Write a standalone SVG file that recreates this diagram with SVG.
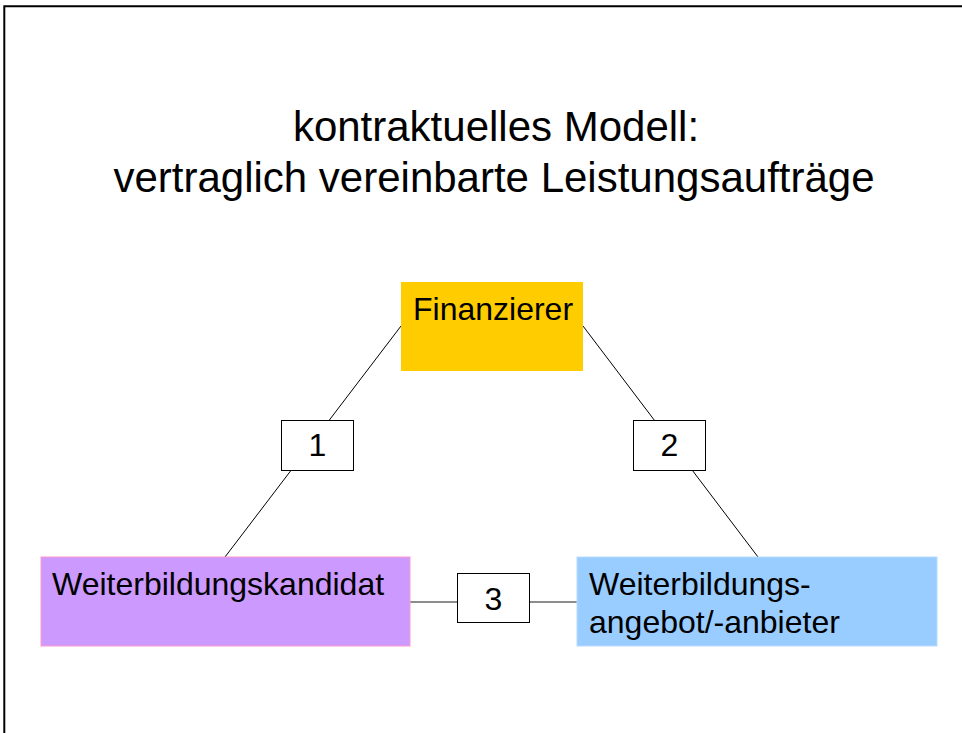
<svg xmlns="http://www.w3.org/2000/svg" width="962" height="733" viewBox="0 0 962 733">
  <style>
    text { font-family: "Liberation Sans", Arial, sans-serif; fill: #000; }
    .title { font-size: 42px; text-anchor: middle; }
    .lbl { font-size: 32px; }
    .num { font-size: 32px; text-anchor: middle; }
    .conn { stroke: #000; stroke-width: 1; fill: none; }
    .connh { stroke: #666; stroke-width: 1.6; fill: none; }
    .numbox { fill: #fff; stroke: #000; stroke-width: 1; }
  </style>
  <rect x="0" y="0" width="962" height="733" fill="#fff"/>
  <path d="M4.3,733 V6.3 H962" fill="none" stroke="#000" stroke-width="2"/>
  <g id="title">
    <text class="title" x="496" y="141">kontraktuelles Modell:</text>
    <text class="title" x="494" y="192">vertraglich vereinbarte Leistungsaufträge</text>
  </g>
  <g id="connectors">
    <line class="conn" x1="401" y1="326" x2="225" y2="557"/>
    <line class="conn" x1="583" y1="326" x2="758" y2="557"/>
    <line class="connh" x1="410" y1="602" x2="577" y2="602"/>
  </g>
  <g id="finanzierer">
    <rect x="401" y="282" width="182" height="89" fill="#FFCC00"/>
    <text class="lbl" x="413" y="320">Finanzierer</text>
  </g>
  <g id="kandidat">
    <rect x="41" y="557" width="369" height="89" fill="#CC99FF" stroke="#FF99CC" stroke-width="1"/>
    <text class="lbl" x="52" y="595">Weiterbildungskandidat</text>
  </g>
  <g id="anbieter">
    <rect x="577" y="557" width="360" height="89" fill="#99CCFF" stroke="#B8DCFF" stroke-width="1"/>
    <text class="lbl" x="589" y="595">Weiterbildungs-</text>
    <text class="lbl" x="589" y="633">angebot/-anbieter</text>
  </g>
  <g id="vertrag1">
    <rect class="numbox" x="281.5" y="420.5" width="72" height="50"/>
    <text class="num" x="317.5" y="456">1</text>
  </g>
  <g id="vertrag2">
    <rect class="numbox" x="633.5" y="420.5" width="72" height="50"/>
    <text class="num" x="669.5" y="456">2</text>
  </g>
  <g id="vertrag3">
    <rect class="numbox" x="457.5" y="573.5" width="72" height="49"/>
    <text class="num" x="493.5" y="610">3</text>
  </g>
</svg>
